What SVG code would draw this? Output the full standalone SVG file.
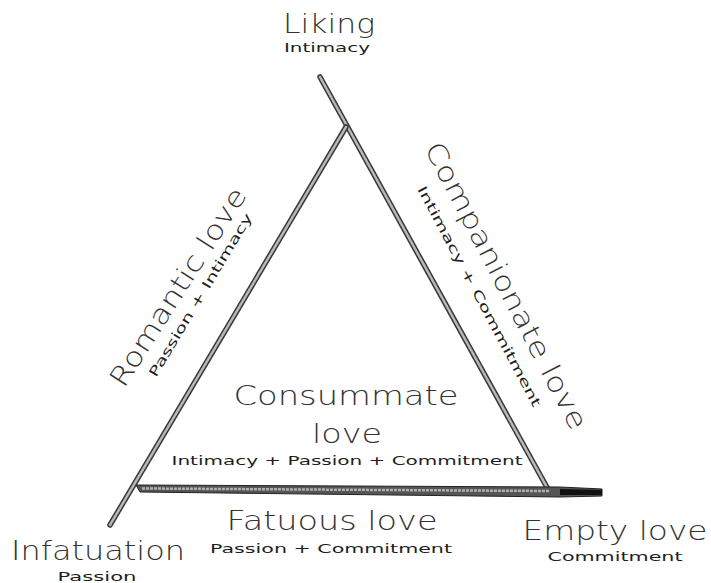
<svg xmlns="http://www.w3.org/2000/svg" width="711" height="583" viewBox="0 0 711 583">
<style>
  text { font-family: "DejaVu Sans", "Liberation Sans", sans-serif; fill: #1e1e1e; }
  .big { font-size: 27px; font-weight: 300; fill: #333; }
  .small { font-size: 13px; }
  .edge-out { fill: none; stroke: #3a3a3a; stroke-width: 5.5; stroke-linecap: round; }
  .edge-in { fill: none; stroke: #b8b8b8; stroke-width: 2.5; stroke-linecap: round; stroke-dasharray: 2 1; }
</style>
<rect width="711" height="583" fill="#ffffff"/>
<g id="connectors">
  <line class="edge-out" x1="320" y1="77" x2="549" y2="491"/>
  <line class="edge-in" x1="320" y1="77" x2="549" y2="491"/>
  <line class="edge-out" x1="110" y1="525" x2="346" y2="127"/>
  <line class="edge-in" x1="110" y1="525" x2="346" y2="127"/>
  <polygon points="136,485 560,487 602,489 602,496 560,497 140,492" fill="#555" stroke="#222" stroke-width="1"/>
  <polyline points="142,488.5 550,491" fill="none" stroke="#b0b0b0" stroke-width="2.5" stroke-dasharray="3 1"/>
  <polygon points="560,489 602,490 602,495 560,495" fill="#111"/>
</g>
<g id="node-liking">
  <text class="big" x="329" y="33" text-anchor="middle" textLength="92" lengthAdjust="spacingAndGlyphs">Liking</text>
  <text class="small" x="327" y="52" text-anchor="middle" textLength="86" lengthAdjust="spacingAndGlyphs">Intimacy</text>
</g>
<g id="node-romantic">
  <text class="big" transform="translate(124,389) rotate(-57.5)" textLength="230" lengthAdjust="spacingAndGlyphs">Romantic love</text>
  <text class="small" transform="translate(156,378) rotate(-59)" textLength="188" lengthAdjust="spacingAndGlyphs">Passion + Intimacy</text>
</g>
<g id="node-companionate">
  <text class="big" transform="translate(424,148) rotate(62.5)" textLength="320" lengthAdjust="spacingAndGlyphs">Companionate love</text>
  <text class="small" transform="translate(417,189) rotate(62)" textLength="248" lengthAdjust="spacingAndGlyphs">Intimacy + Commitment</text>
</g>
<g id="node-consummate">
  <text class="big" x="346" y="405" text-anchor="middle" textLength="225" lengthAdjust="spacingAndGlyphs">Consummate</text>
  <text class="big" x="347" y="443" text-anchor="middle" textLength="70" lengthAdjust="spacingAndGlyphs">love</text>
  <text class="small" x="347" y="465" text-anchor="middle" textLength="351" lengthAdjust="spacingAndGlyphs">Intimacy + Passion + Commitment</text>
</g>
<g id="node-infatuation">
  <text class="big" x="98" y="560" text-anchor="middle" textLength="174" lengthAdjust="spacingAndGlyphs">Infatuation</text>
  <text class="small" x="97" y="581" text-anchor="middle" textLength="79" lengthAdjust="spacingAndGlyphs">Passion</text>
</g>
<g id="node-fatuous">
  <text class="big" x="332" y="530" text-anchor="middle" textLength="211" lengthAdjust="spacingAndGlyphs">Fatuous love</text>
  <text class="small" x="331" y="553" text-anchor="middle" textLength="242" lengthAdjust="spacingAndGlyphs">Passion + Commitment</text>
</g>
<g id="node-empty">
  <text class="big" x="615" y="540" text-anchor="middle" textLength="185" lengthAdjust="spacingAndGlyphs">Empty love</text>
  <text class="small" x="615" y="561" text-anchor="middle" textLength="135" lengthAdjust="spacingAndGlyphs">Commitment</text>
</g>
</svg>
